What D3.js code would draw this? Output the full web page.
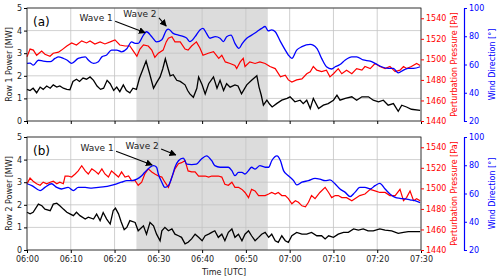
<!DOCTYPE html>
<html>
<head>
<meta charset="utf-8">
<script src="https://cdn.jsdelivr.net/npm/d3@7"></script>
<style>
	body { margin: 0; background: #fff; }
	text { font-family: 'DejaVu Sans', sans-serif; }
</style>
</head>
<body>
<div class="chart"></div>
<script>
const WIDTH = 500;
const HEIGHT = 280;
const PLOT = { left: 27, right: 421, blueAxis: 464 };
const PANEL_BOXES = [{ top: 8, bottom: 121 }, { top: 137, bottom: 250 }];

// minutes after 06:00
const timeTicks = [0, 10, 20, 30, 40, 50, 60, 70, 80, 90];
const powerTicks = [0, 1, 2, 3, 4, 5];
const pressureTicks = [1440, 1460, 1480, 1500, 1520, 1540];
const directionTicks = [20, 40, 60, 80, 100];
const waveWindow = [25, 55];

// panel (a): [minute, value]
const row1Power = [[0,1.40],[0.7,1.35],[1.4,1.45],[2.2,1.25],[3,1.50],[3.7,1.40],[4.5,1.55],[5.3,1.45],[6,1.60],[6.8,1.50],[7.5,1.55],[8.3,1.45],[9.1,1.40],[9.8,1.38],[10.5,1.75],[11.3,1.85],[12,1.75],[12.8,1.90],[13.6,1.85],[14.4,1.95],[15.2,1.80],[16,1.55],[16.8,1.40],[17.5,1.45],[18.3,1.80],[19,1.65],[19.8,1.35],[20.5,1.50],[21.2,1.30],[22,1.60],[22.7,1.35],[23.5,1.25],[24.2,1.45],[25,1.40],[25.7,1.90],[26.5,2.30],[27.2,2.65],[28,2.10],[28.9,1.45],[29.6,1.70],[30.4,1.95],[31,2.30],[31.6,2.75],[32.1,2.40],[32.7,2.00],[33.4,2.05],[34.2,1.80],[35,1.75],[36.1,1.60],[36.7,1.35],[37.2,1.20],[38,1.05],[38.8,1.45],[39.2,1.95],[40,1.60],[40.7,1.20],[41.5,1.65],[42.6,1.95],[43.4,1.45],[44.1,1.80],[44.9,1.35],[45.6,1.65],[46.4,1.50],[47.5,1.60],[48.2,1.55],[49,1.20],[50.2,1.60],[51.3,1.80],[52.5,2.00],[53,1.50],[53.5,1.15],[54,0.70],[54.8,0.92],[55.4,0.75],[56,0.62],[57.1,0.78],[58.2,0.92],[59.4,1.00],[60.1,1.07],[61.2,0.85],[62.4,0.92],[63.1,0.77],[63.9,0.92],[64.7,0.55],[65.4,1.00],[66.6,0.55],[67.7,0.70],[68.8,0.77],[70,0.92],[70.8,1.14],[71.5,0.92],[72.7,1.00],[74.2,1.07],[75.3,0.92],[76.5,1.07],[78,1.07],[79.1,0.92],[80.3,0.85],[81.4,0.92],[82.5,0.70],[83.7,0.77],[84.8,0.43],[85.6,0.70],[86.7,0.62],[87.8,0.52],[89.8,0.47]];
const pressureA = [[0,1502.5],[0.7,1510],[1.45,1509],[2.2,1504],[3.35,1508],[4.1,1505],[5.25,1503],[6,1506],[7.2,1507],[7.9,1509],[9.1,1513],[10.2,1516],[11.3,1514],[12.5,1518],[13.6,1516],[14.4,1518],[15.5,1515],[16.7,1517],[17.8,1515],[19,1517],[20.1,1519],[21.2,1514],[22.4,1513],[23.5,1513],[24.3,1508],[25.1,1503],[25.8,1510],[26.6,1514],[27.7,1513],[28.5,1509],[29.2,1502],[30,1506],[31.1,1509],[31.8,1517],[32.3,1520.5],[33.1,1522],[33.8,1517],[35,1517],[36.1,1510],[36.8,1509],[37.6,1513],[38.7,1517],[39.5,1511],[40.2,1504],[41.4,1506],[42.6,1507.5],[43.8,1501],[44.5,1504],[45.3,1497.5],[46.4,1496],[47.5,1494],[47.9,1491],[48.7,1497.5],[49.4,1501],[49.8,1493],[50.9,1497.5],[52.1,1496],[53.2,1497.5],[54.4,1496],[55.5,1493],[56.7,1491],[57.9,1483],[59,1484.5],[59.7,1480],[60.5,1478],[61.6,1480],[62.8,1481],[63.9,1486],[64.7,1488],[65.4,1493],[66.2,1489.5],[67.3,1488],[68.4,1489.5],[69.2,1483],[70,1486],[71.1,1491],[71.9,1486],[73,1489.5],[74.2,1486],[75.3,1491],[76.5,1489.5],[77.2,1493],[78.4,1491],[79.5,1496],[80.6,1493],[81.8,1491],[82.9,1493],[84.1,1488],[85.2,1489.5],[86,1493],[86.7,1491],[87.8,1493],[89,1496],[89.8,1494]];
const directionA = [[0,60.8],[0.7,61],[1.45,59.5],[2.6,63],[3.7,62.4],[5.3,62],[6.4,64.3],[7.2,65.4],[8.3,64.3],[9.1,63.2],[10.2,60.8],[11.7,64.3],[13.3,65.4],[14,63.2],[15.2,60.8],[16.3,62],[17.1,65.4],[18.2,66.7],[19.3,70.2],[20.5,70.2],[21.6,69],[22.8,71.2],[23.9,76],[24.7,75],[25.4,75],[26.6,80.8],[27.3,83.2],[28.5,79.7],[29.6,76],[30.8,77.6],[31.9,84.5],[32.3,85.1],[33.4,82],[34.6,80.8],[35.8,79.7],[36.5,78.6],[37.2,76.2],[38.4,79.7],[39.5,84.5],[40.2,85.6],[41,82],[41.8,78.6],[43,79.7],[44.1,78.6],[44.9,76.2],[45.6,79.7],[46.6,80.8],[47.5,75],[48.4,71.4],[49.2,75],[50.2,78.6],[51.3,80.8],[52.5,83.2],[53.6,85.6],[54.4,86.9],[55.1,83.8],[55.9,84.5],[56.7,83.2],[57.9,76.2],[59,70.2],[59.7,66.7],[60.5,64.3],[61.6,70.2],[62.8,72.6],[64.7,74.2],[66.2,71.4],[67.3,64.3],[68.4,58.4],[69.6,56.8],[70.4,58.4],[71.5,60],[72.7,63.2],[74.2,65.4],[75.3,65.4],[76.8,63.2],[78.4,62.4],[79.5,60.8],[81,58.4],[82.5,57.3],[83.7,57.3],[84.8,54.1],[86,56],[87.1,57.3],[88.3,57.3],[89.8,58.4]];

// panel (b)
const row2Power = [[0,1.67],[0.7,1.60],[1.4,1.67],[2.6,2.03],[3.4,1.96],[4.1,1.81],[5.3,1.74],[6,2.03],[6.8,2.07],[7.5,1.96],[8.3,1.81],[9.1,1.67],[9.8,1.60],[10.6,1.52],[11.3,1.67],[12.1,1.52],[13.3,1.37],[14,1.45],[15.2,1.37],[15.9,1.59],[16.7,1.30],[17.4,1.66],[18.2,1.37],[19,1.15],[19.7,1.75],[20.2,1.85],[20.9,1.60],[21.5,1.25],[22.2,0.90],[22.8,1.00],[23.5,1.30],[24.7,1.22],[25.4,0.85],[26.6,1.07],[27.3,0.70],[28.1,1.22],[28.9,1.07],[29.6,0.70],[30.4,0.41],[30.8,0.85],[31.5,1.00],[32.3,0.85],[33.1,0.93],[33.8,0.70],[34.6,0.63],[35.3,0.56],[36.1,0.27],[36.8,0.34],[37.6,0.49],[38.4,0.70],[39.2,0.56],[40,0.41],[40.7,0.63],[41.5,0.70],[42.2,0.78],[42.9,0.85],[43.7,0.56],[44.5,0.70],[45.2,0.41],[46,0.78],[46.8,0.93],[47.5,0.56],[48.3,0.70],[49.1,0.41],[49.8,0.70],[50.6,0.85],[51.3,0.63],[52.1,0.41],[52.9,0.56],[53.6,0.70],[54.4,0.78],[55.2,0.56],[55.9,0.70],[56.7,0.41],[57.4,0.34],[58.2,0.63],[59,0.41],[59.7,0.34],[60.5,0.63],[61.6,0.78],[62.8,0.70],[63.9,0.70],[65,0.78],[66.2,0.63],[67.3,0.63],[68.1,0.49],[68.9,0.63],[70,0.56],[71.1,0.70],[72.3,0.78],[73.4,0.78],[74.6,0.93],[75.7,0.88],[76.8,0.93],[77.9,0.85],[79.1,0.85],[80.6,0.93],[81.8,0.88],[83.3,0.85],[84.8,0.74],[86,0.78],[87.1,0.81],[88.2,0.81],[89.8,0.81]];
const pressureB = [[0,1504.5],[0.7,1510],[1.4,1507],[2.2,1504.5],[3,1503],[3.7,1506],[4.5,1504.5],[5.3,1506],[6,1507],[6.8,1504.5],[7.5,1506],[8.3,1504.5],[8.7,1512],[9.4,1512],[10.2,1511],[11,1514],[11.7,1517],[12.5,1522],[13.3,1517],[14,1514],[14.8,1519],[15.5,1517],[16.3,1514],[17.1,1519],[17.8,1514],[18.6,1511],[19.3,1517],[20.1,1514],[20.9,1511],[21.6,1516],[22.4,1511],[23.2,1512],[23.9,1507.5],[24.7,1507.5],[25.4,1503],[26.2,1506],[26.9,1514],[27.7,1519],[28.5,1516],[29.2,1514],[30,1512],[30.8,1511],[31.5,1506],[32.3,1501],[33.1,1511],[33.8,1519],[34.6,1524],[35.3,1525],[36.1,1527],[36.8,1517],[37.6,1516],[38.4,1516],[39.2,1512],[40,1512],[40.7,1512],[41.5,1511],[42.2,1512],[42.9,1512],[43.7,1512],[44.5,1511],[45.2,1504],[46,1503],[46.8,1506],[47.5,1501],[48.3,1501],[49.1,1499],[49.8,1496],[50.6,1491],[51.3,1499],[52.1,1497.5],[52.9,1493],[53.6,1493],[54.4,1493],[55.2,1494.5],[55.9,1496],[56.7,1494.5],[57.4,1496],[58.2,1493],[59,1493],[59.7,1490],[60.5,1485],[61.3,1488],[62,1486.5],[62.8,1483],[63.6,1482],[64.3,1486.5],[65,1493],[65.8,1490],[66.9,1496],[68.1,1501],[68.9,1496],[69.6,1491],[70.4,1493],[71.1,1493],[71.9,1491],[73,1491],[74.2,1488],[74.9,1490],[76,1493],[77.2,1494.5],[78.4,1499],[79.5,1497.5],[80.6,1496],[81.8,1496],[82.9,1493],[84.1,1493],[85.2,1499],[86,1488],[86.7,1491],[87.5,1497.5],[88.3,1488],[89,1490],[89.8,1488]];
const directionB = [[0,66.9],[1.1,65.6],[3,62.1],[4.1,64.3],[5.6,66.9],[6.8,64.3],[7.9,63.2],[9.4,64.3],[10.6,62.1],[11.7,64.3],[13.3,64.3],[14.8,63.8],[16.3,64.3],[17.8,64.8],[19,65.6],[20.5,66.9],[21.6,68],[22.8,69.1],[23.9,69.1],[25.1,70.2],[26.2,72.6],[26.9,75],[28.1,78.6],[28.9,79.7],[29.6,78.6],[30,73.8],[30.8,68],[31.5,64.3],[32.3,65.6],[33.1,71.5],[33.8,78.6],[34.6,83.2],[35.7,85.1],[36.5,80.8],[37.6,80.5],[38.7,80.8],[39.8,84.2],[41,86.7],[42.2,83.2],[42.9,79.7],[44.1,78.6],[45.2,78.6],[46,78.6],[46.8,76.2],[47.5,72.6],[48.3,75],[49.1,75],[49.8,73.8],[50.6,76.2],[51.3,78.6],[52.1,77.3],[53.2,79.7],[54.4,78.6],[55.2,78.6],[55.9,83.2],[57.1,86.7],[57.9,83.2],[58.6,76.2],[59.7,72.6],[60.9,69.1],[61.6,66.1],[62.8,68],[64.3,69.1],[65.8,70.7],[66.9,70.2],[68.1,69.1],[69.2,69.6],[70.4,66.7],[71.5,63.2],[72.7,60.8],[73.8,57.8],[74.9,60.8],[76,64.3],[77.2,64.3],[78.4,63.2],[79.5,65.6],[80.6,67.2],[81.8,63.2],[82.9,59.7],[84.1,57.3],[85.2,56.6],[86.4,56.2],[87.5,55.5],[88.6,54.9],[89.8,53.6]];

// arrow annotations: text anchor and arrow tip, in [minute, MW]
const wavesA = [
	{ text: 'Wave 1', at: [15.8, 4.55], tip: [27.0, 3.9] },
	{ text: 'Wave 2', at: [25.8, 4.7], tip: [31.8, 4.2] }
];
const wavesB = [
	{ text: 'Wave 1', at: [16.0, 4.5], tip: [28.6, 3.76] },
	{ text: 'Wave 2', at: [26.3, 4.6], tip: [34.0, 4.2] }
];

const panels = [
	{ tag: '(a)', ylabel: 'Row 1 Power [MW]', power: row1Power, pressure: pressureA, direction: directionA, waves: wavesA, showTime: false },
	{ tag: '(b)', ylabel: 'Row 2 Power [MW]', power: row2Power, pressure: pressureB, direction: directionB, waves: wavesB, showTime: true }
];

const svg = d3
	.select('.chart')
	.append('svg')
	.attr('width', WIDTH)
	.attr('height', HEIGHT);

svg.append('defs')
	.append('marker')
	.attr('id', 'head')
	.attr('viewBox', '0 0 10 10')
	.attr('refX', 9)
	.attr('refY', 5)
	.attr('markerWidth', 7)
	.attr('markerHeight', 7)
	.attr('markerUnits', 'userSpaceOnUse')
	.attr('orient', 'auto')
	.append('path')
	.attr('d', 'M0,0 L10,5 L0,10 z')
	.attr('fill', '#000');

const xScale = d3.scaleLinear().domain([0, 90]).range([PLOT.left, PLOT.right]);

function fmtTime(m) {
	const h = 6 + Math.floor(m / 60);
	const mm = m % 60;
	return String(h).padStart(2, '0') + ':' + String(mm).padStart(2, '0');
}

const intFmt = d3.format('d');

function styleText(sel, color) {
	sel.selectAll('text')
		.attr('font-size', 8)
		.attr('fill', color)
		.attr('font-family', 'DejaVu Sans');
}

panels.forEach((p, i) => {
	const box = PANEL_BOXES[i];
	const g = svg.append('g');

	const yPower = d3.scaleLinear().domain([0, 5]).range([box.bottom, box.top]);
	const yPress = d3.scaleLinear().domain([1440, 1550]).range([box.bottom, box.top]);
	const yDir = d3.scaleLinear().domain([20, 100]).range([box.bottom, box.top]);

	// shaded wave window
	g.append('rect')
		.attr('x', xScale(waveWindow[0]))
		.attr('y', box.top)
		.attr('width', xScale(waveWindow[1]) - xScale(waveWindow[0]))
		.attr('height', box.bottom - box.top)
		.attr('fill', '#dcdcdc');

	// grid
	g.selectAll('.vgrid')
		.data(timeTicks)
		.enter()
		.append('line')
		.attr('x1', d => xScale(d))
		.attr('x2', d => xScale(d))
		.attr('y1', box.top)
		.attr('y2', box.bottom)
		.attr('stroke', '#c4c4c4')
		.attr('stroke-width', 0.8);
	g.selectAll('.hgrid')
		.data(powerTicks)
		.enter()
		.append('line')
		.attr('x1', PLOT.left)
		.attr('x2', PLOT.right)
		.attr('y1', d => yPower(d))
		.attr('y2', d => yPower(d))
		.attr('stroke', '#c4c4c4')
		.attr('stroke-width', 0.8);

	// lines
	const line = y => d3.line().x(d => xScale(d[0])).y(d => y(d[1]));
	g.append('path')
		.datum(p.power)
		.attr('d', line(yPower))
		.attr('fill', 'none')
		.attr('stroke', '#000')
		.attr('stroke-width', 1.3);
	g.append('path')
		.datum(p.pressure)
		.attr('d', line(yPress))
		.attr('fill', 'none')
		.attr('stroke', '#ff0000')
		.attr('stroke-width', 1.2);
	g.append('path')
		.datum(p.direction)
		.attr('d', line(yDir).curve(d3.curveMonotoneX))
		.attr('fill', 'none')
		.attr('stroke', '#0000ff')
		.attr('stroke-width', 1.3);

	// frame
	g.append('rect')
		.attr('x', PLOT.left)
		.attr('y', box.top)
		.attr('width', PLOT.right - PLOT.left)
		.attr('height', box.bottom - box.top)
		.attr('fill', 'none')
		.attr('stroke', '#222')
		.attr('stroke-width', 0.8);

	// axes
	const xAxis = d3.axisBottom(xScale)
		.tickValues(timeTicks)
		.tickSize(3)
		.tickFormat(p.showTime ? fmtTime : '');
	g.append('g')
		.attr('transform', `translate(0, ${box.bottom})`)
		.call(xAxis)
		.call(a => a.select('.domain').remove())
		.call(a => styleText(a, '#222'));

	g.append('g')
		.attr('transform', `translate(${PLOT.left}, 0)`)
		.call(d3.axisLeft(yPower).tickValues(powerTicks).tickFormat(intFmt).tickSize(3).tickPadding(2))
		.call(a => a.select('.domain').remove())
		.call(a => styleText(a, '#222'));

	g.append('g')
		.attr('transform', `translate(${PLOT.right}, 0)`)
		.call(d3.axisRight(yPress).tickValues(pressureTicks).tickFormat(intFmt).tickSize(3).tickPadding(2))
		.call(a => a.select('.domain').remove())
		.call(a => a.selectAll('line').attr('stroke', '#ff0000'))
		.call(a => styleText(a, '#ff0000'));

	g.append('g')
		.attr('transform', `translate(${PLOT.blueAxis}, 0)`)
		.call(d3.axisRight(yDir).tickValues(directionTicks).tickFormat(intFmt).tickSize(3).tickSizeOuter(0).tickPadding(2))
		.call(a => a.select('.domain').attr('stroke', '#0000ff').attr('stroke-width', 1.2))
		.call(a => a.selectAll('line').attr('stroke', '#0000ff'))
		.call(a => styleText(a, '#0000ff'));

	const midY = (box.top + box.bottom) / 2;
	g.append('text')
		.attr('transform', `translate(9, ${midY}) rotate(-90)`)
		.attr('text-anchor', 'middle')
		.attr('dominant-baseline', 'middle')
		.attr('font-size', 8)
		.attr('fill', '#222')
		.text(p.ylabel);
	g.append('text')
		.attr('transform', `translate(454, ${midY}) rotate(-90)`)
		.attr('text-anchor', 'middle')
		.attr('dominant-baseline', 'middle')
		.attr('font-size', 8)
		.attr('fill', '#ff0000')
		.text('Perturbation Pressure [Pa]');
	g.append('text')
		.attr('transform', `translate(492, ${midY}) rotate(-90)`)
		.attr('text-anchor', 'middle')
		.attr('dominant-baseline', 'middle')
		.attr('font-size', 8)
		.attr('fill', '#0000ff')
		.text('Wind Direction [°]');

	// panel tag
	g.append('text')
		.attr('x', PLOT.left + 6)
		.attr('y', box.top + 18)
		.attr('font-size', 12)
		.attr('fill', '#000')
		.text(p.tag);

	// wave annotations
	p.waves.forEach(w => {
		const tx = xScale(w.at[0]);
		const ty = yPower(w.at[1]);
		g.append('text')
			.attr('x', tx)
			.attr('y', ty)
			.attr('text-anchor', 'middle')
			.attr('dominant-baseline', 'middle')
			.attr('font-size', 9)
			.attr('fill', '#222')
			.text(w.text);
		g.append('line')
			.attr('x1', tx + 19)
			.attr('y1', ty + 3)
			.attr('x2', xScale(w.tip[0]))
			.attr('y2', yPower(w.tip[1]))
			.attr('stroke', '#000')
			.attr('stroke-width', 1.1)
			.attr('marker-end', 'url(#head)');
	});
});

svg.append('text')
	.attr('x', (PLOT.left + PLOT.right) / 2)
	.attr('y', 275)
	.attr('text-anchor', 'middle')
	.attr('font-size', 8)
	.attr('fill', '#222')
	.text('Time [UTC]');
</script>
</body>
</html>
